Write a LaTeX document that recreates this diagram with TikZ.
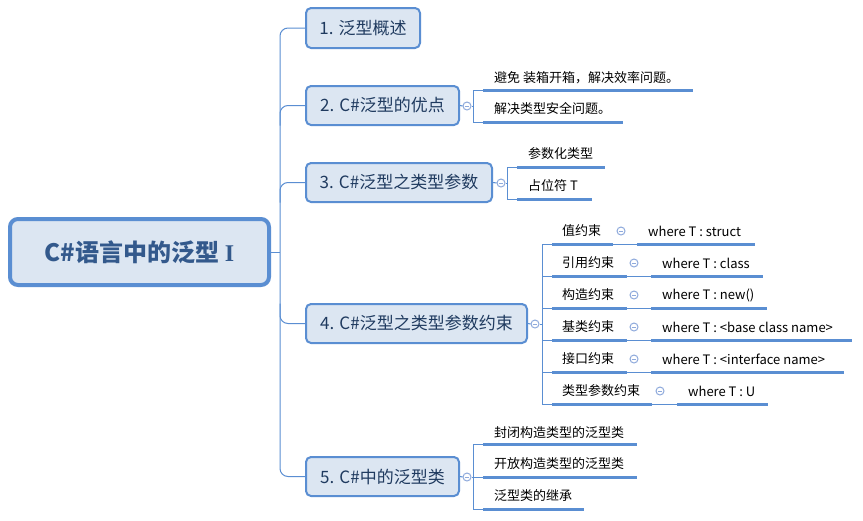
\documentclass[tikz,border=0pt]{standalone}
\usepackage{fontspec}
\setmainfont{Noto Sans CJK SC}
\newfontfamily\serifI{Liberation Serif}
\newcommand\fsz[1]{\fontsize{#1}{#1}\selectfont}
\definecolor{lc}{HTML}{5A8ED2}
\definecolor{cc}{HTML}{8FAADC}
\definecolor{bf}{HTML}{DCE6F2}
\definecolor{bt}{HTML}{1F3A5F}
\definecolor{mt}{HTML}{33598C}
\tikzset{
  ln/.style={draw=lc, line width=1},
  ul/.style={draw=lc, line width=3},
  mainbox/.style={rectangle, rounded corners=8, draw=lc, line width=4, fill=bf, text=mt, font=\fsz{24}\bfseries, inner sep=0},
  branch/.style={rectangle, rounded corners=5, draw=lc, line width=2, fill=bf, text=bt, font=\fsz{17}, inner sep=0},
  leaf/.style={anchor=west, inner sep=0, text=black, font=\fsz{13}},
  collapse/.style={circle, draw=cc, line width=1, fill=white, minimum size=8, inner sep=0,
    path picture={\draw[cc, line width=0.9] ([xshift=-2.4pt]path picture bounding box.center) -- ([xshift=2.4pt]path picture bounding box.center);}},
}
\begin{document}
\begin{tikzpicture}[x=1pt, y=-1pt]
\useasboundingbox[fill=white] (0,0) rectangle (863,520);

% main node and trunk
\node[mainbox, minimum width=259, minimum height=66] (main) at (139.5,252) {C\#语言中的泛型 {\serifI\bfseries I}};
\coordinate (T) at (280,252);

\node[branch, minimum width=114, minimum height=40] (b1) at (363,28) {1. 泛型概述};
\node[branch, minimum width=153, minimum height=39] (b2) at (382.5,105.5) {2. C\#泛型的优点};
\node[branch, minimum width=186, minimum height=39] (b3) at (399,182.5) {3. C\#泛型之类型参数};
\node[branch, minimum width=221, minimum height=39] (b4) at (416.5,323.5) {4. C\#泛型之类型参数约束};
\node[branch, minimum width=153, minimum height=39] (b5) at (382.5,476.5) {5. C\#中的泛型类};

\draw[ln] (main.east) -- (T);
\draw[ln, rounded corners=8] (b1.west) -| (T) |- (b5.west);
\draw[ln, rounded corners=8] (b2.west) -| ([yshift=-20pt]b2.west -| T);
\draw[ln, rounded corners=8] (b3.west) -| ([yshift=-20pt]b3.west -| T);
\draw[ln, rounded corners=8] (b4.west) -| ([yshift=20pt]b4.west -| T);

% branch 2
\node[collapse] (c2) at (467,106) {};
\coordinate (v2) at (473,106);
\draw[ln] (b2.east) -- (c2.west);
\node[leaf] (t21) at (494,78) {避免 装箱开箱，解决效率问题。};
\node[leaf] (t22) at (494,109) {解决类型安全问题。};
\coordinate (u21s) at (483,90); \coordinate (u21e) at (693,90);
\coordinate (u22s) at (483,122); \coordinate (u22e) at (623,122);
\draw[ln] (c2.east) -- (v2) |- (u21s);
\draw[ln] (v2) |- (u22s);
\draw[ul] (u21s) -- (u21e);
\draw[ul] (u22s) -- (u22e);

% branch 3
\node[collapse] (c3) at (501,183) {};
\coordinate (v3) at (507,183);
\draw[ln] (b3.east) -- (c3.west);
\node[leaf] (t31) at (528,154) {参数化类型};
\node[leaf] (t32) at (528,186) {占位符 T};
\coordinate (u31s) at (517,167); \coordinate (u31e) at (605,167);
\coordinate (u32s) at (517,199); \coordinate (u32e) at (592,199);
\draw[ln] (c3.east) -- (v3) |- (u31s);
\draw[ln] (v3) |- (u32s);
\draw[ul] (u31s) -- (u31e);
\draw[ul] (u32s) -- (u32e);

% branch 4
\node[collapse] (c4) at (535,324) {};
\coordinate (v4) at (542,324);
\draw[ln] (b4.east) -- (c4.west);
\draw[ln] (c4.east) -- (v4);
\foreach \i/\txt/\y/\ea/\cx/\ws/\we/\wt in {
  1/值约束/244/613/621/637/755/struct,
  2/引用约束/276/627/634/651/763/class,
  3/构造约束/308/627/634/651/767/new(),
  4/基类约束/340/627/634/651/852/<base class name>,
  5/接口约束/372/627/634/651/844/<interface name>,
  6/类型参数约束/404/652/660/677/768/U}{
  \node[leaf] (k\i) at (562,\y-13) {\txt};
  \coordinate (ks\i) at (552,\y);
  \coordinate (ke\i) at (\ea,\y);
  \node[collapse] (kc\i) at (\cx,\y-13) {};
  \coordinate (ws\i) at (\ws,\y);
  \coordinate (we\i) at (\we,\y);
  \node[leaf] (w\i) at (\ws+11,\y-13) {where T : \wt};
  \draw[ln] (v4) |- (ks\i);
  \draw[ln] (ke\i) -- (ws\i);
  \draw[ul] (ks\i) -- (ke\i);
  \draw[ul] (ws\i) -- (we\i);
}

% branch 5
\node[collapse] (c5) at (467,477) {};
\coordinate (v5) at (473,477);
\draw[ln] (b5.east) -- (c5.west);
\node[leaf] (t51) at (494,433) {封闭构造类型的泛型类};
\node[leaf] (t52) at (494,464) {开放构造类型的泛型类};
\node[leaf] (t53) at (494,496) {泛型类的继承};
\coordinate (u51s) at (483,444); \coordinate (u51e) at (637,444);
\coordinate (u52s) at (483,477); \coordinate (u52e) at (637,477);
\coordinate (u53s) at (483,509); \coordinate (u53e) at (584,509);
\draw[ln] (c5.east) -- (v5) |- (u51s);
\draw[ln] (v5) -- (u52s);
\draw[ln] (v5) |- (u53s);
\draw[ul] (u51s) -- (u51e);
\draw[ul] (u52s) -- (u52e);
\draw[ul] (u53s) -- (u53e);
\end{tikzpicture}
\end{document}
